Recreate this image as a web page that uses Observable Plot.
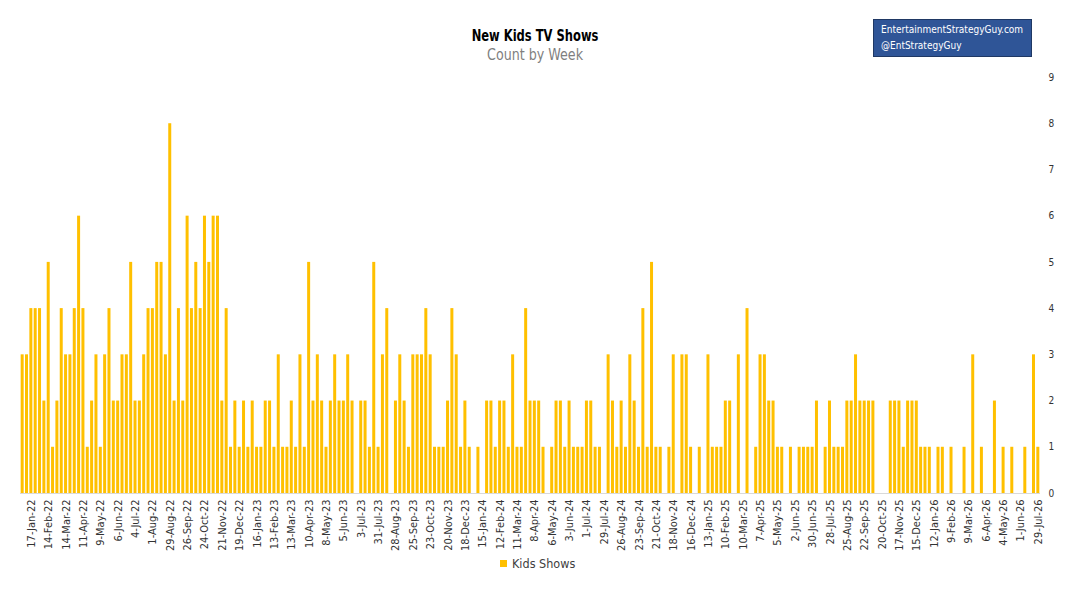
<!DOCTYPE html>
<html>
<head>
<meta charset="utf-8">
<script src="https://cdn.jsdelivr.net/npm/d3@7"></script>
<script src="https://cdn.jsdelivr.net/npm/@observablehq/plot@0.6"></script>
<style>
  body { margin: 0; background: #ffffff; }
  #wrap { position: relative; width: 1075px; height: 593px; overflow: hidden;
          font-family: "Liberation Sans Narrow", "DejaVu Sans Condensed", "Roboto", sans-serif; }
  #chart { position: absolute; left: 0; top: 0; }
  #title { position: absolute; left: 0; width: 1070px; top: 26px; text-align: center;
           font-size: 16px; font-weight: bold; color: #000; z-index: 2;
           transform: scaleX(0.8); transform-origin: 535px 0; }
  #subtitle { position: absolute; left: 0; width: 1070px; top: 46px; text-align: center;
              font-size: 15px; color: #7f7f7f; z-index: 2;
              transform: scaleX(0.94); transform-origin: 535px 0; }
  #badge { position: absolute; left: 873px; top: 19px; width: 150px; height: 34px;
           padding: 2px 0 0 7px; background: #2F5597; border: 1px solid #1F3864;
           color: #fff; font-size: 10px; line-height: 16px; z-index: 2; white-space: nowrap; }
  #legend { position: absolute; left: 500px; top: 556px; font-size: 12.5px; color: #404040;
            display: flex; align-items: center; z-index: 2; }
  #legend .sw { display: inline-block; width: 7px; height: 7px; background: #FFC000; margin-right: 5px; }
</style>
</head>
<body>
<div id="wrap">
  <div id="title">New Kids TV Shows</div>
  <div id="subtitle">Count by Week</div>
  <div id="badge">EntertainmentStrategyGuy.com<br>@EntStrategyGuy</div>
  <div id="chart"></div>
  <div id="legend"><span class="sw"></span><span>Kids Shows</span></div>
</div>
<script>
// Weekly new kids TV show counts (week 1 = first week in the chart)
const counts = [
  3,3,4,4,4,2,5,1,2,4,3,3,4,6,4,1,2,3,1,3,4,2,2,3,3,5,2,2,3,
  4,4,5,5,3,8,2,4,2,6,4,5,4,6,5,6,6,2,4,1,2,1,2,1,2,1,1,2,2,1,
  3,1,1,2,1,3,1,5,2,3,2,1,2,3,2,2,3,2,0,2,2,1,5,1,3,4,0,2,3,2,
  1,3,3,3,4,3,1,1,1,2,4,3,1,2,1,0,1,0,2,2,1,2,2,1,3,1,1,4,2,2,
  2,1,0,1,2,2,1,2,1,1,1,2,2,1,1,0,3,2,1,2,1,3,2,1,4,1,5,1,1,
  0,1,3,0,3,3,1,0,1,0,3,1,1,1,2,2,0,3,0,4,0,1,3,3,2,2,1,1,0,1,
  0,1,1,1,1,2,0,1,2,1,1,1,2,2,3,2,2,2,2,0,0,0,2,2,2,1,2,2,2,1,1,
  1,0,1,1,0,1,0,0,1,0,3,0,1,0,0,2,0,1,0,1,0,0,1,0,3,1
];

// Week categories (one per bar)
const weeks = counts.map((_, i) => i + 1);

// Axis tick labels, shown on every fourth week starting at week 3
const tickLabels = [
  "17-Jan-22","14-Feb-22","14-Mar-22","11-Apr-22","9-May-22","6-Jun-22","4-Jul-22","1-Aug-22","29-Aug-22","26-Sep-22","24-Oct-22","21-Nov-22","19-Dec-22",
  "16-Jan-23","13-Feb-23","13-Mar-23","10-Apr-23","8-May-23","5-Jun-23","3-Jul-23","31-Jul-23","28-Aug-23","25-Sep-23","23-Oct-23","20-Nov-23","18-Dec-23",
  "15-Jan-24","12-Feb-24","11-Mar-24","8-Apr-24","6-May-24","3-Jun-24","1-Jul-24","29-Jul-24","26-Aug-24","23-Sep-24","21-Oct-24","18-Nov-24","16-Dec-24",
  "13-Jan-25","10-Feb-25","10-Mar-25","7-Apr-25","5-May-25","2-Jun-25","30-Jun-25","28-Jul-25","25-Aug-25","22-Sep-25","20-Oct-25","17-Nov-25","15-Dec-25",
  "12-Jan-26","9-Feb-26","9-Mar-26","6-Apr-26","4-May-26","1-Jun-26","29-Jul-26"
];
const tickWeeks = tickLabels.map((_, k) => 3 + 4 * k);
const labelByWeek = new Map(tickWeeks.map((w, k) => [w, tickLabels[k]]));

const yTicks = [0,1,2,3,4,5,6,7,8,9];

const data = weeks.map((w, i) => ({ week: w, count: counts[i] }));
const fontFamily = '"Liberation Sans Narrow", "DejaVu Sans Condensed", "Roboto", sans-serif';

const chart = Plot.plot({
  width: 1075,
  height: 548,
  marginLeft: 20,
  marginRight: 35,
  marginTop: 77,
  marginBottom: 55,
  style: { background: "transparent", fontFamily, overflow: "visible" },
  x: { type: "band", domain: weeks, paddingInner: 0.31, paddingOuter: 0.155, axis: null },
  y: { domain: [0, 9], axis: null },
  marks: [
    Plot.ruleY([0], { stroke: "#d9d9d9", strokeWidth: 1 }),
    Plot.barY(data, { x: "week", y: "count", fill: "#FFC000" }),
    Plot.axisX({
      ticks: tickWeeks,
      tickFormat: (w) => labelByWeek.get(w),
      tickRotate: -90,
      tickSize: 0,
      tickPadding: 6,
      fontSize: 11,
      fill: "#333333",
      label: null
    }),
    Plot.axisY({
      anchor: "right",
      ticks: yTicks,
      tickFormat: (d) => String(d),
      tickSize: 0,
      tickPadding: 8,
      fontSize: 10,
      fill: "#333333",
      label: null
    })
  ]
});
document.getElementById("chart").appendChild(chart);
</script>
</body>
</html>
